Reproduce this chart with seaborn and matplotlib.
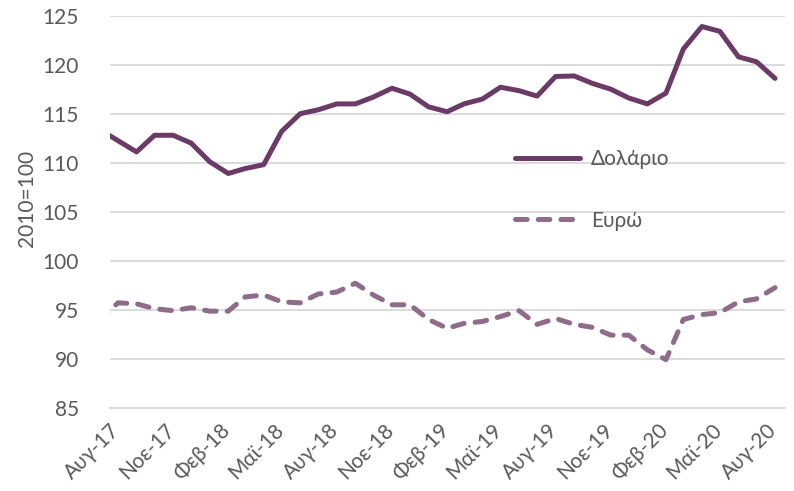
import pandas as pd
import matplotlib.pyplot as plt
import seaborn as sns

# Monthly values, mid-month (first one falls just left of the axis and gets clipped)
months = pd.date_range("2017-07-01", "2020-08-01", freq="MS") + pd.Timedelta(days=14)

dolario = [113.4, 112.25, 111.1, 112.8, 112.8, 112.0, 110.1, 108.9, 109.4, 109.8,
           113.2, 115.0, 115.4, 116.0, 116.0, 116.7, 117.6, 117.0, 115.7, 115.2,
           116.0, 116.5, 117.7, 117.35, 116.8, 118.8, 118.85, 118.1, 117.5, 116.6,
           116.0, 117.1, 121.6, 123.9, 123.4, 120.8, 120.3, 118.6]

evro = [93.9, 95.7, 95.6, 95.1, 94.9, 95.2, 94.85, 94.85, 96.3, 96.5,
        95.8, 95.7, 96.6, 96.8, 97.7, 96.5, 95.5, 95.5, 94.0, 93.1,
        93.6, 93.8, 94.3, 94.9, 93.5, 94.1, 93.5, 93.2, 92.4, 92.4,
        90.9, 89.9, 94.0, 94.5, 94.7, 95.8, 96.1, 97.25]

tick_dates = pd.date_range("2017-08-01", "2020-08-01", freq="3MS")
tick_labels = ["Αυγ-17", "Νοε-17", "Φεβ-18", "Μαϊ-18", "Αυγ-18", "Νοε-18", "Φεβ-19",
               "Μαϊ-19", "Αυγ-19", "Νοε-19", "Φεβ-20", "Μαϊ-20", "Αυγ-20"]

df = pd.DataFrame({"date": months, "Δολάριο": dolario, "Ευρώ": evro})

sns.set_style("white")
plt.rcParams["font.family"] = ["Lato", "Open Sans", "DejaVu Sans"]

fig = plt.figure(figsize=(7.94, 4.91), dpi=100)
ax = fig.add_axes([0.138, 0.1697, 0.851, 0.7983])

grey = "#595959"
fs = 15
sns.lineplot(x="date", y="Δολάριο", data=df, ax=ax, color="#6B3A66",
             linewidth=3.6, label="Δολάριο", solid_capstyle="round")
sns.lineplot(x="date", y="Ευρώ", data=df, ax=ax, color="#8E6C8A",
             linewidth=3.6, label="Ευρώ", dashes=(2.34, 2.2), dash_capstyle="round")

ax.set_xlim(pd.Timestamp("2017-08-01"), pd.Timestamp("2020-09-01"))
ax.set_ylim(85, 125)
ax.set_yticks(range(85, 126, 5))
ax.yaxis.grid(True, color="#D9D9D9", linewidth=1.3)
ax.set_axisbelow(True)

ax.set_xticks(tick_dates)
ax.set_xticklabels(tick_labels, rotation=45, ha="right", rotation_mode="anchor")
ax.tick_params(axis="x", colors=grey, labelsize=fs, length=5, width=1, color="#D9D9D9", pad=4)
ax.tick_params(axis="y", colors=grey, labelsize=fs, length=0, pad=22)

for s in ["top", "right", "left"]:
    ax.spines[s].set_visible(False)
ax.spines["bottom"].set_color("#D9D9D9")
ax.spines["bottom"].set_linewidth(1.3)

ax.set_xlabel("")
ax.set_ylabel("2010=100", color=grey, fontsize=fs)
ax.yaxis.set_label_coords(-0.108, 0.534)

ax.legend(loc="upper left", bbox_to_anchor=(0.572, 0.708), frameon=False, fontsize=fs,
          handlelength=3.12, labelspacing=2.0, labelcolor=grey, handletextpad=0.53)

plt.savefig("out.png", dpi=100)
